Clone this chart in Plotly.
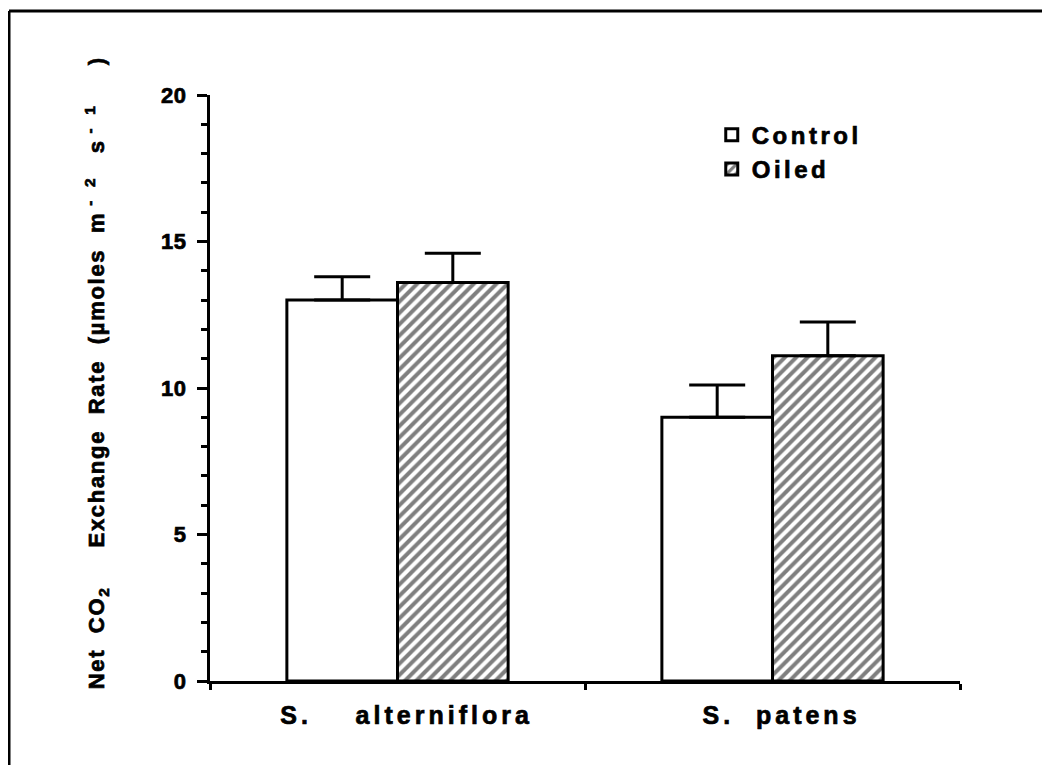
import plotly.graph_objects as go

categories = ["S.\u00a0\u00a0\u00a0 alterniflora", "S.\u00a0 patens"]
cat_pos = [0, 1]
control_vals = [13.0, 9.0]
control_err = [0.8, 1.1]
oiled_vals = [13.6, 11.1]
oiled_err = [1.0, 1.15]
y_ticks = [0, 5, 10, 15, 20]

FONT = "Liberation Sans, Arial, Helvetica, sans-serif"


def styled(t, ls):
    return (f"<span style='letter-spacing:{ls}px;stroke:black;stroke-width:0.7px'>{t}</span>")


fig = go.Figure()
fig.add_trace(go.Bar(
    name=styled("Control", 3.5), x=cat_pos, y=control_vals,
    marker=dict(color="white", line=dict(color="black", width=3)),
    error_y=dict(type="data", array=control_err, arrayminus=[0, 0], symmetric=False,
                 color="black", thickness=3, width=28),
))
fig.add_trace(go.Bar(
    name=styled("Oiled", 3.5), x=cat_pos, y=oiled_vals,
    marker=dict(color="white", line=dict(color="black", width=3),
                pattern=dict(shape="/", size=8, solidity=0.5, fgcolor="black", bgcolor="white")),
    error_y=dict(type="data", array=oiled_err, arrayminus=[0, 0], symmetric=False,
                 color="black", thickness=3, width=28),
))

fig.update_layout(
    width=1050, height=765,
    paper_bgcolor="white", plot_bgcolor="white",
    barmode="group", bargap=0.41, bargroupgap=0,
    margin=dict(l=202, r=98, t=87, b=92),
    font=dict(family=FONT, color="black", size=22, weight="bold"),
    showlegend=True,
    legend=dict(x=0.669, y=0.97, xanchor="left", yanchor="top", bgcolor="rgba(0,0,0,0)",
                font=dict(family=FONT, size=24, weight="bold"), tracegroupgap=0,
                traceorder="normal"),
    xaxis=dict(range=[-0.5, 1.5], tickmode="array", tickvals=cat_pos,
               ticktext=[styled(c, 4) for c in categories],
               ticks="", showline=True, linecolor="black", linewidth=3, showgrid=False,
               zeroline=False, tickfont=dict(family=FONT, size=25, weight="bold"),
               ticklabelstandoff=10, ticklabelshift=9,
               minor=dict(ticks="outside", ticklen=6, tickwidth=2.5, tickcolor="black",
                          tick0=0.5, dtick=1, showgrid=False)),
    yaxis=dict(range=[0, 20], tickmode="array", tickvals=y_ticks,
               ticktext=[styled(str(v), 0.5) for v in y_ticks],
               ticks="outside", ticklen=10,
               tickwidth=2.5, tickcolor="black", showline=True, linecolor="black", linewidth=3,
               showgrid=False, zeroline=False, tickfont=dict(family=FONT, size=22, weight="bold"),
               ticklabelstandoff=6,
               minor=dict(ticks="outside", ticklen=6, tickwidth=2.5, tickcolor="black",
                          dtick=1, tick0=0, showgrid=False)),
)

title_txt = ("Net\u00a0 CO<sub>2</sub>\u00a0\u00a0\u00a0\u00a0 Exchange\u00a0 Rate\u00a0 (\u00b5moles\u00a0 m"
             "<sup>\u00a0-\u00a0 2</sup>\u00a0\u00a0 s<sup>\u00a0-\u00a0 1</sup>\u00a0\u00a0\u00a0\u00a0 )")
fig.add_annotation(
    text=styled(title_txt, 1.7),
    textangle=-90, xref="paper", yref="paper", x=-0.152, y=0.525, xanchor="center", yanchor="middle",
    showarrow=False, font=dict(family=FONT, size=22, weight="bold"),
)

# partial outer frame (top and left)
fig.add_shape(type="line", xref="paper", yref="paper", x0=-0.268, x1=1.2, y0=1.1433, y1=1.1433,
              line=dict(color="black", width=3))
fig.add_shape(type="line", xref="paper", yref="paper", x0=-0.268, x1=-0.268, y0=1.1433, y1=-0.2,
              line=dict(color="black", width=3))

fig.write_html("out.html")
